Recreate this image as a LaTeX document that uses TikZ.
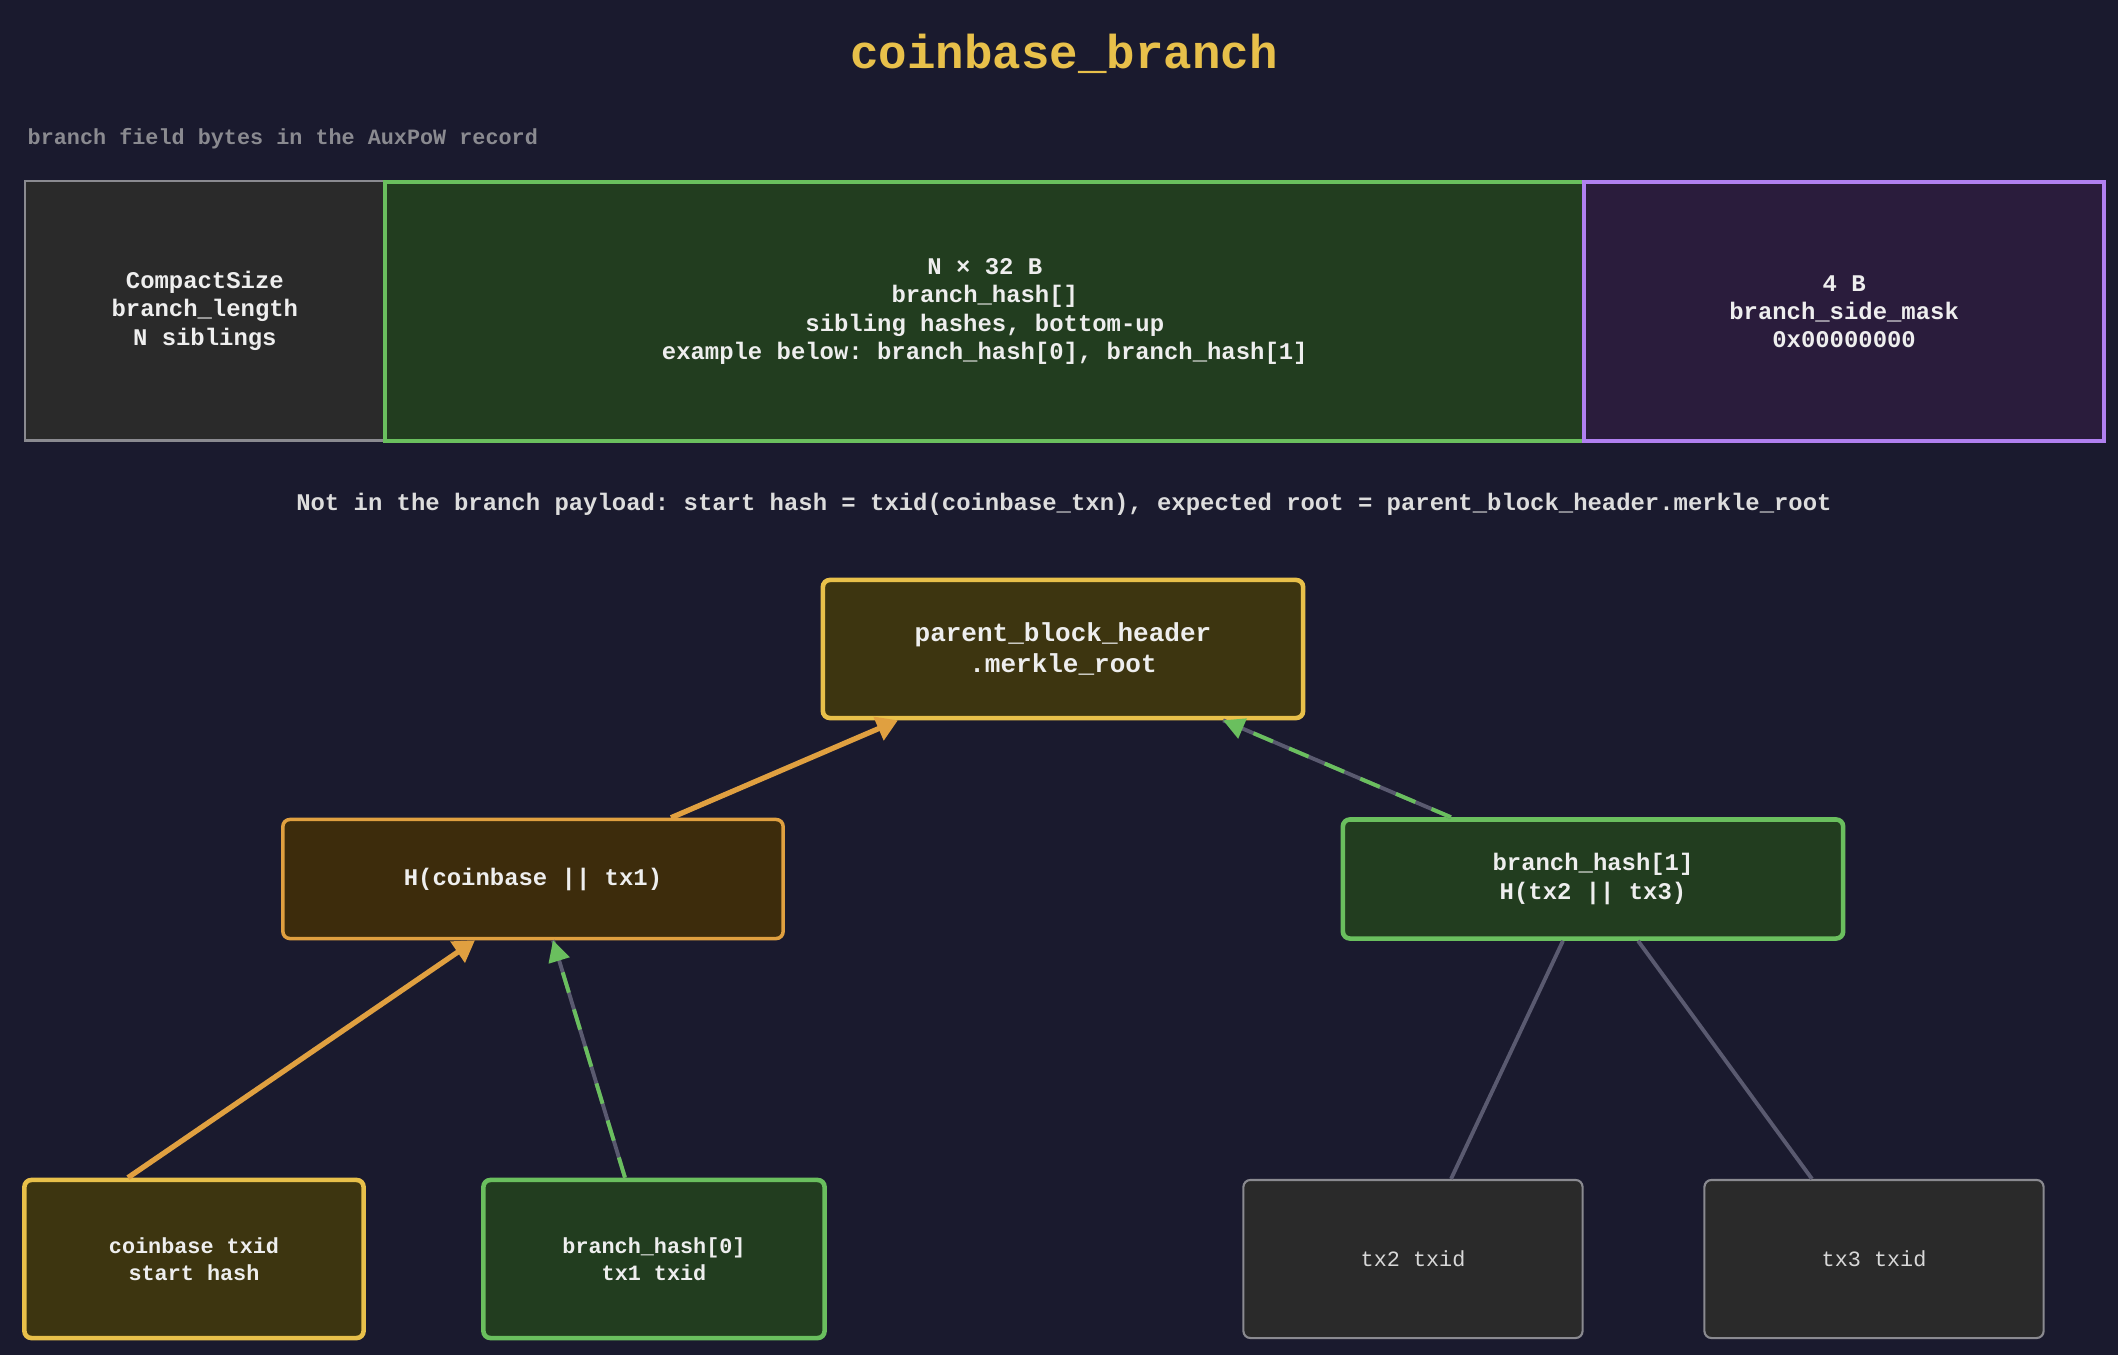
\documentclass[tikz,border=0pt]{standalone}
\usepackage{fontspec}
\setmonofont{Liberation Mono}
\usetikzlibrary{arrows.meta}
\definecolor{bgc}{HTML}{1A1A2E}
\definecolor{ylw}{HTML}{E8C04A}
\definecolor{org}{HTML}{E0A040}
\definecolor{grn}{HTML}{6ABF5E}
\definecolor{prp}{HTML}{B080F0}
\definecolor{gry}{HTML}{8A8A90}
\definecolor{lnk}{HTML}{5A5A70}
\definecolor{txt}{HTML}{EEEEEE}
\definecolor{fylw}{HTML}{3D3510}
\definecolor{forg}{HTML}{3D2C0C}
\definecolor{fgrn}{HTML}{223D1F}
\definecolor{fprp}{HTML}{2A1C3C}
\definecolor{fgry}{HTML}{2A2A2A}
\tikzset{
  field/.style={draw, line width=0.7pt, text=txt, font=\ttfamily\bfseries\fontsize{6.8}{8}\selectfont, align=center, inner sep=0pt},
  blk/.style={rounded corners=2pt, text=txt, align=center, inner sep=0pt, font=\ttfamily\bfseries\fontsize{6.8}{8}\selectfont},
  leaf/.style={blk, font=\ttfamily\bfseries\fontsize{6.2}{7.6}\selectfont},
  up/.style={org, line width=1.5pt, -{Triangle[length=6pt,width=7pt]}},
  sib/.style={lnk, line width=1.1pt},
  sibtop/.style={grn, line width=1.1pt, dash pattern=on 6pt off 5pt, -{Triangle[length=6pt,width=6pt]}},
}
\begin{document}
\begin{tikzpicture}[x=0.01cm, y=-0.01cm]
  \fill[bgc] (0,0) rectangle (2118,1355);
  \useasboundingbox (0,0) rectangle (2118,1355);
  \node[ylw, font=\ttfamily\bfseries\fontsize{13.5}{15}\selectfont] (title) at (1064,54) {coinbase\_branch};
  \node[gry, anchor=west, inner sep=0pt, font=\ttfamily\bfseries\fontsize{6.2}{7}\selectfont] (cap) at (27,139) {branch field bytes in the AuxPoW record};
  % field layout
  \node[field, gry, fill=fgry, text=txt, minimum width=3.59cm, minimum height=2.59cm, anchor=north west] (len) at (24,180)
    {CompactSize\\branch\_length\\N siblings};
  \node[field, grn, line width=1.1pt, fill=fgrn, text=txt, minimum width=11.99cm, minimum height=2.59cm, anchor=north west] (hashes) at (383,180)
    {N × 32 B\\branch\_hash[]\\sibling hashes, bottom-up\\example below: branch\_hash[0], branch\_hash[1]};
  \node[field, prp, line width=1.1pt, fill=fprp, text=txt, minimum width=5.2cm, minimum height=2.59cm, anchor=north west] (mask) at (1582,180)
    {4 B\\branch\_side\_mask\\0x00000000};
  \node[text=txt!85!gray, font=\ttfamily\bfseries\fontsize{6.8}{8}\selectfont] (note) at (1064,504)
    {Not in the branch payload: start hash = txid(coinbase\_txn), expected root = parent\_block\_header.merkle\_root};
  % tree
  \node[blk, draw=ylw, line width=1.3pt, fill=fylw, minimum width=4.8cm, minimum height=1.38cm, font=\ttfamily\bfseries\fontsize{7.4}{9}\selectfont] (root) at (1063,649)
    {parent\_block\_header\\.merkle\_root};
  \node[blk, draw=org, line width=1pt, fill=forg, minimum width=5cm, minimum height=1.19cm] (h01) at (533,879) {H(coinbase || tx1)};
  \node[blk, draw=grn, line width=1.3pt, fill=fgrn, minimum width=5cm, minimum height=1.19cm] (h23) at (1593,879) {branch\_hash[1]\\H(tx2 || tx3)};
  \node[leaf, draw=ylw, line width=1.3pt, fill=fylw, minimum width=3.39cm, minimum height=1.58cm] (cb) at (194,1259) {coinbase txid\\start hash};
  \node[leaf, draw=grn, line width=1.3pt, fill=fgrn, minimum width=3.41cm, minimum height=1.58cm] (b0) at (654,1259) {branch\_hash[0]\\tx1 txid};
  \node[leaf, draw=gry, line width=0.6pt, fill=fgry, minimum width=3.39cm, minimum height=1.58cm, font=\ttfamily\fontsize{6.2}{7.6}\selectfont, text=txt!80!gray] (t2) at (1413,1259) {tx2 txid};
  \node[leaf, draw=gry, line width=0.6pt, fill=fgry, minimum width=3.39cm, minimum height=1.58cm, font=\ttfamily\fontsize{6.2}{7.6}\selectfont, text=txt!80!gray] (t3) at (1874,1259) {tx3 txid};
  % connectors
  \draw[up] ([xshift=-0.66cm]cb.north) -- ([xshift=-0.58cm]h01.south);
  \draw[up] ([xshift=1.38cm]h01.north) -- ([xshift=-1.65cm]root.south);
  \draw[sib] ([xshift=-0.29cm]b0.north) -- ([xshift=0.2cm]h01.south);
  \draw[sibtop] ([xshift=-0.29cm]b0.north) -- ([xshift=0.2cm]h01.south);
  \draw[sib] ([xshift=-1.42cm]h23.north) -- ([xshift=1.6cm]root.south);
  \draw[sibtop] ([xshift=-1.42cm]h23.north) -- ([xshift=1.6cm]root.south);
  \draw[sib] ([xshift=-0.3cm]h23.south) -- ([xshift=0.38cm]t2.north);
  \draw[sib] ([xshift=0.45cm]h23.south) -- ([xshift=-0.62cm]t3.north);
\end{tikzpicture}
\end{document}
